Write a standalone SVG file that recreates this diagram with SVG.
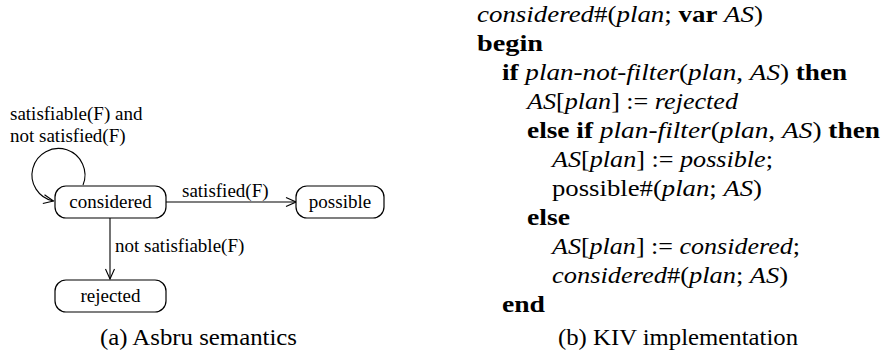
<svg xmlns="http://www.w3.org/2000/svg" width="884" height="354" viewBox="0 0 884 354">
<style>
.box{fill:#fff;stroke:#000;stroke-width:1.2}
.lbl{font-family:"Liberation Serif","Times New Roman",serif;font-size:19px;fill:#000}
.ctr{text-anchor:middle}
.edge{fill:none;stroke:#000;stroke-width:1.1}
.code{font-family:"Liberation Serif","Times New Roman",serif;font-size:24px;fill:#000}
.i{font-style:italic}
.b{font-weight:bold}
</style>
<defs>
<marker id="arr" markerUnits="userSpaceOnUse" markerWidth="12" markerHeight="12" viewBox="-11 -6 12 12" refX="0" refY="0" orient="auto">
<path d="M-10,-4.5 L0,0 L-10,4.5" fill="none" stroke="#000" stroke-width="1.1"/>
</marker>
</defs>
<rect width="884" height="354" fill="#fff"/>
<g id="connectors">
<path class="edge" d="M83,185 A26.5,26.5 0 1 0 53.5,201" marker-end="url(#arr)"/>
<path class="edge" d="M166,202 L296,202" marker-end="url(#arr)"/>
<path class="edge" d="M110,218 L110,279" marker-end="url(#arr)"/>
<text class="lbl" x="10" y="120">satisfiable(F) and</text>
<text class="lbl" x="10" y="142">not satisfied(F)</text>
<text class="lbl" x="182" y="197">satisfied(F)</text>
<text class="lbl" x="115" y="252">not satisfiable(F)</text>
</g>
<g id="considered">
<rect class="box" x="55" y="186" width="111" height="32" rx="11"/>
<text class="lbl ctr" x="110.5" y="208">considered</text>
</g>
<g id="possible">
<rect class="box" x="296" y="186" width="88" height="32" rx="11"/>
<text class="lbl ctr" x="340" y="208">possible</text>
</g>
<g id="rejected">
<rect class="box" x="55" y="280" width="111" height="32" rx="11"/>
<text class="lbl ctr" x="110.5" y="302">rejected</text>
</g>
<text class="code" x="100" y="345" textLength="197" lengthAdjust="spacingAndGlyphs">(a)  Asbru semantics</text>
<g id="code">
<text class="code" x="477" y="22" textLength="286" lengthAdjust="spacingAndGlyphs"><tspan class="i">considered</tspan>#(<tspan class="i">plan</tspan>; <tspan class="b">var</tspan> <tspan class="i">AS</tspan>)</text>
<text class="code b" x="477" y="51" textLength="66" lengthAdjust="spacingAndGlyphs">begin</text>
<text class="code" x="502" y="80" textLength="345" lengthAdjust="spacingAndGlyphs"><tspan class="b">if</tspan> <tspan class="i">plan-not-filter</tspan>(<tspan class="i">plan</tspan>, <tspan class="i">AS</tspan>) <tspan class="b">then</tspan></text>
<text class="code" x="527" y="109" textLength="211" lengthAdjust="spacingAndGlyphs"><tspan class="i">AS</tspan>[<tspan class="i">plan</tspan>] := <tspan class="i">rejected</tspan></text>
<text class="code" x="527" y="138" textLength="353" lengthAdjust="spacingAndGlyphs"><tspan class="b">else if</tspan> <tspan class="i">plan-filter</tspan>(<tspan class="i">plan</tspan>, <tspan class="i">AS</tspan>) <tspan class="b">then</tspan></text>
<text class="code" x="552" y="167" textLength="221" lengthAdjust="spacingAndGlyphs"><tspan class="i">AS</tspan>[<tspan class="i">plan</tspan>] := <tspan class="i">possible</tspan>;</text>
<text class="code" x="552" y="196" textLength="210" lengthAdjust="spacingAndGlyphs">possible#(<tspan class="i">plan</tspan>; <tspan class="i">AS</tspan>)</text>
<text class="code b" x="527" y="225" textLength="43" lengthAdjust="spacingAndGlyphs">else</text>
<text class="code" x="552" y="254" textLength="248" lengthAdjust="spacingAndGlyphs"><tspan class="i">AS</tspan>[<tspan class="i">plan</tspan>] := <tspan class="i">considered</tspan>;</text>
<text class="code" x="552" y="283" textLength="236" lengthAdjust="spacingAndGlyphs"><tspan class="i">considered</tspan>#(<tspan class="i">plan</tspan>; <tspan class="i">AS</tspan>)</text>
<text class="code b" x="502" y="312" textLength="43" lengthAdjust="spacingAndGlyphs">end</text>
<text class="code" x="558" y="345" textLength="240" lengthAdjust="spacingAndGlyphs">(b) KIV implementation</text>
</g>
</svg>
